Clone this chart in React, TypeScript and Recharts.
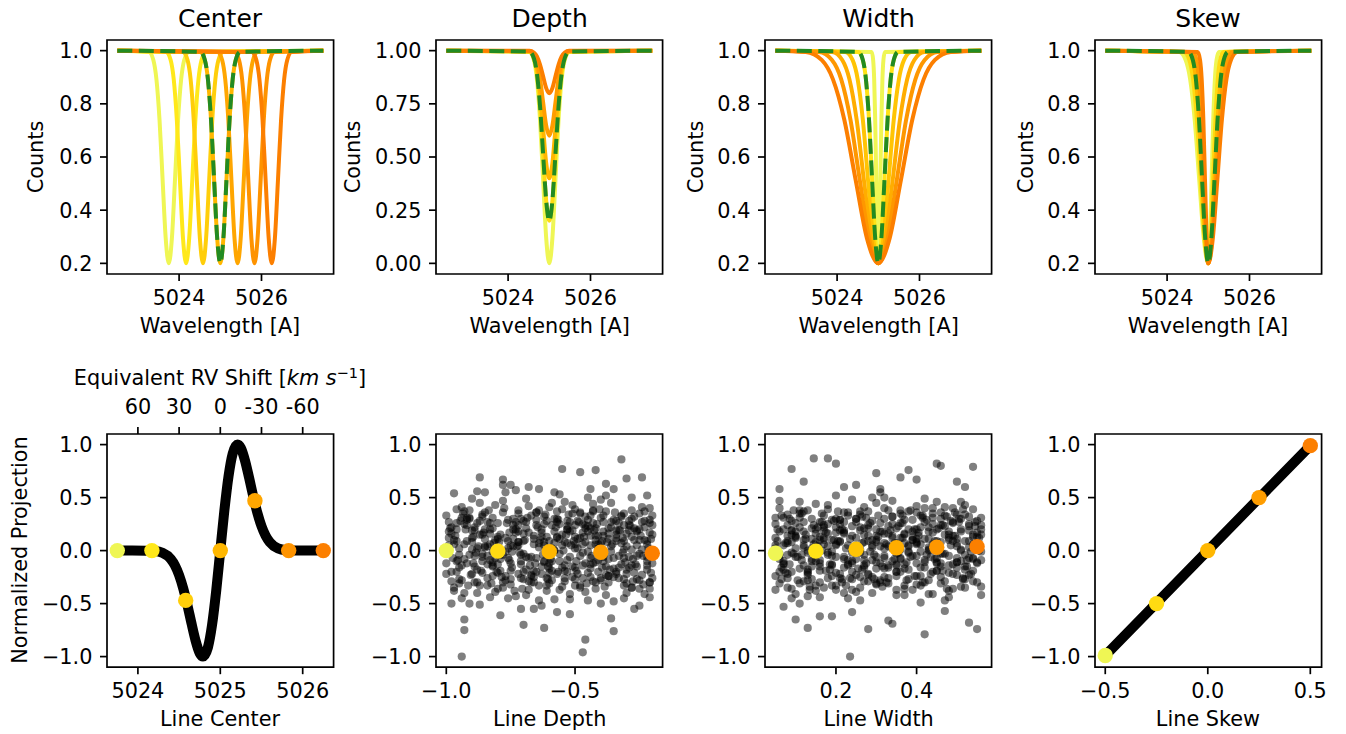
import React from "react";
import { ComposedChart, Line, Scatter, XAxis, YAxis, ReferenceArea } from "recharts";

const FONT = '"DejaVu Sans", Verdana, sans-serif';
const TICK = { fontSize: 20.8, fill: "#000", fontFamily: FONT };
const TL = { stroke: "#000", strokeWidth: 1.7 };
const GREEN = "#228b22";

// ---- tick values / labels ----
const waveTicks = [5024, 5026];
const waveTickLabels = ["5024", "5026"];
const countTicks = [0.2, 0.4, 0.6, 0.8, 1.0];
const countTickLabels = ["0.2", "0.4", "0.6", "0.8", "1.0"];
const depthCountTicks = [0, 0.25, 0.5, 0.75, 1.0];
const depthCountTickLabels = ["0.00", "0.25", "0.50", "0.75", "1.00"];
const projTicks = [-1, -0.5, 0, 0.5, 1];
const projTickLabels = ["\u22121.0", "\u22120.5", "0.0", "0.5", "1.0"];
const lineCenterTicks = [5024, 5025, 5026];
const lineCenterTickLabels = ["5024", "5025", "5026"];
const rvTicks = [5024, 5024.5, 5025, 5025.5, 5026];
const rvTickLabels = ["60", "30", "0", "-30", "-60"];
const lineDepthTicks = [-1, -0.5];
const lineDepthTickLabels = ["\u22121.0", "\u22120.5"];
const lineWidthTicks = [0.2, 0.4];
const lineWidthTickLabels = ["0.2", "0.4"];
const lineSkewTicks = [-0.5, 0, 0.5];
const lineSkewTickLabels = ["\u22120.5", "0.0", "0.5"];

// ---- colours ----
const sevenColors = ["#eff654", "#ffe81a", "#ffce0a", "#ffb700", "#ffa600", "#fe9300", "#fc7f00"];
const fiveColors = ["#eff654", "#ffdb12", "#ffb700", "#ff9d00", "#fc7f00"];
const sixColors = ["#eff654", "#ffe317", "#ffc404", "#ffad00", "#fe9700", "#fc7f00"];

// ---- line profiles (counts) ----
const counts08 = [1, 0.995, 0.965, 0.892, 0.74, 0.514, 0.294, 0.2, 0.294, 0.514, 0.74, 0.892, 0.965, 0.995, 1];
const counts10 = [1, 0.994, 0.956, 0.865, 0.675, 0.393, 0.118, 0, 0.118, 0.393, 0.675, 0.865, 0.956, 0.994, 1];
const counts06 = [1, 0.996, 0.974, 0.919, 0.805, 0.636, 0.471, 0.4, 0.471, 0.636, 0.805, 0.919, 0.974, 0.996, 1];
const counts04 = [1, 0.998, 0.982, 0.946, 0.87, 0.757, 0.647, 0.6, 0.647, 0.757, 0.87, 0.946, 0.982, 0.998, 1];
const counts02 = [1, 0.999, 0.991, 0.973, 0.935, 0.879, 0.824, 0.8, 0.824, 0.879, 0.935, 0.973, 0.991, 0.999, 1];

// wavelength grids of each curve
const waveRef = [5022.5, 5024.52, 5024.625, 5024.7, 5024.775, 5024.85, 5024.925, 5025, 5025.075, 5025.15, 5025.225, 5025.3, 5025.375, 5025.48, 5027.5];

const waveCenter1 = [5022.5, 5023.27, 5023.375, 5023.45, 5023.525, 5023.6, 5023.675, 5023.75, 5023.825, 5023.9, 5023.975, 5024.05, 5024.125, 5024.23, 5027.5];
const waveCenter2 = [5022.5, 5023.69, 5023.795, 5023.87, 5023.945, 5024.02, 5024.095, 5024.17, 5024.245, 5024.32, 5024.395, 5024.47, 5024.545, 5024.65, 5027.5];
const waveCenter3 = [5022.5, 5024.1, 5024.205, 5024.28, 5024.355, 5024.43, 5024.505, 5024.58, 5024.655, 5024.73, 5024.805, 5024.88, 5024.955, 5025.06, 5027.5];
const waveCenter5 = [5022.5, 5024.94, 5025.045, 5025.12, 5025.195, 5025.27, 5025.345, 5025.42, 5025.495, 5025.57, 5025.645, 5025.72, 5025.795, 5025.9, 5027.5];
const waveCenter6 = [5022.5, 5025.35, 5025.455, 5025.53, 5025.605, 5025.68, 5025.755, 5025.83, 5025.905, 5025.98, 5026.055, 5026.13, 5026.205, 5026.31, 5027.5];
const waveCenter7 = [5022.5, 5025.77, 5025.875, 5025.95, 5026.025, 5026.1, 5026.175, 5026.25, 5026.325, 5026.4, 5026.475, 5026.55, 5026.625, 5026.73, 5027.5];

const waveWidth05 = [5022.5, 5024.84, 5024.875, 5024.9, 5024.925, 5024.95, 5024.975, 5025, 5025.025, 5025.05, 5025.075, 5025.1, 5025.125, 5025.16, 5027.5];
const waveWidth25 = [5022.5, 5024.2, 5024.375, 5024.5, 5024.625, 5024.75, 5024.875, 5025, 5025.125, 5025.25, 5025.375, 5025.5, 5025.625, 5025.8, 5027.5];
const waveWidth35 = [5022.5, 5023.88, 5024.125, 5024.3, 5024.475, 5024.65, 5024.825, 5025, 5025.175, 5025.35, 5025.525, 5025.7, 5025.875, 5026.12, 5027.5];
const waveWidth45 = [5022.5, 5023.56, 5023.875, 5024.1, 5024.325, 5024.55, 5024.775, 5025, 5025.225, 5025.45, 5025.675, 5025.9, 5026.125, 5026.44, 5027.5];
const waveWidth55 = [5022.5, 5023.24, 5023.625, 5023.9, 5024.175, 5024.45, 5024.725, 5025, 5025.275, 5025.55, 5025.825, 5026.1, 5026.375, 5026.76, 5027.5];

const waveSkew1 = [5022.5, 5024.296, 5024.45, 5024.56, 5024.67, 5024.78, 5024.89, 5025, 5025.04, 5025.08, 5025.12, 5025.16, 5025.2, 5025.256, 5027.5];
const waveSkew2 = [5022.5, 5024.408, 5024.538, 5024.63, 5024.723, 5024.815, 5024.908, 5025, 5025.058, 5025.115, 5025.173, 5025.23, 5025.288, 5025.368, 5027.5];
const waveSkew4 = [5022.5, 5024.632, 5024.713, 5024.77, 5024.828, 5024.885, 5024.943, 5025, 5025.093, 5025.185, 5025.278, 5025.37, 5025.463, 5025.592, 5027.5];
const waveSkew5 = [5022.5, 5024.744, 5024.8, 5024.84, 5024.88, 5024.92, 5024.96, 5025, 5025.11, 5025.22, 5025.33, 5025.44, 5025.55, 5025.704, 5027.5];

// ---- bottom row: projections ----
const centerProjX = [5023.75, 5024.1, 5024.2, 5024.3, 5024.4, 5024.45, 5024.5, 5024.55, 5024.6, 5024.65, 5024.7, 5024.75, 5024.79, 5024.85, 5024.9, 5024.95, 5025, 5025.05, 5025.1, 5025.15, 5025.21, 5025.25, 5025.3, 5025.35, 5025.4, 5025.45, 5025.5, 5025.55, 5025.6, 5025.7, 5025.8, 5025.9, 5026.25];
const centerProjY = [0, -0.0005, -0.004, -0.021, -0.08, -0.14, -0.231, -0.356, -0.512, -0.685, -0.849, -0.967, -1.0, -0.913, -0.701, -0.382, 0, 0.382, 0.701, 0.913, 1.0, 0.967, 0.849, 0.685, 0.512, 0.356, 0.231, 0.14, 0.08, 0.021, 0.004, 0.0005, 0];
const centerDotX = [5023.75, 5024.17, 5024.58, 5025, 5025.42, 5025.83, 5026.25];
const centerDotY = [0, 0, -0.47, 0, 0.47, 0, 0];

const depthDotX = [-1, -0.8, -0.6, -0.4, -0.2];
const depthDotY = [0, -0.005, -0.01, -0.015, -0.025];
const widthDotX = [0.05, 0.15, 0.25, 0.35, 0.45, 0.55];
const widthDotY = [-0.025, -0.005, 0.012, 0.027, 0.031, 0.037];
const skewDotX = [-0.5, -0.25, 0, 0.25, 0.5];
const skewDotY = [-0.99, -0.5, 0, 0.5, 0.99];
const skewProjX = [-0.5, 0.5];
const skewProjY = [-0.99, 0.99];

const depthCloudX = [
  -0.99, -0.97, -0.94, -0.93, -0.89, -0.87, -0.85, -0.82, -0.79, -0.77, -0.75, -0.72, -0.69, -0.68, -0.65, -0.62, -0.6, -0.57, -0.55, -0.52, -0.5, -0.47, -0.44, -0.43, -0.4, -0.37, -0.35, -0.32, -0.3, -0.27, -0.24, -0.21,
  -0.98, -0.96, -0.92, -0.91, -0.88, -0.86, -0.83, -0.8, -0.78, -0.76, -0.73, -0.71, -0.7, -0.66, -0.64, -0.61, -0.59, -0.56, -0.54, -0.51, -0.49, -0.46, -0.45, -0.42, -0.39, -0.38, -0.34, -0.31, -0.29, -0.26, -0.23, -0.22,
  -1.0, -0.95, -0.94, -0.9, -0.87, -0.84, -0.83, -0.81, -0.77, -0.74, -0.72, -0.7, -0.67, -0.65, -0.63, -0.6, -0.58, -0.55, -0.53, -0.5, -0.48, -0.45, -0.43, -0.41, -0.38, -0.36, -0.33, -0.3, -0.28, -0.25, -0.22, -0.2,
  -0.97, -0.96, -0.93, -0.89, -0.86, -0.85, -0.82, -0.79, -0.78, -0.75, -0.71, -0.69, -0.68, -0.64, -0.62, -0.59, -0.57, -0.54, -0.52, -0.49, -0.47, -0.44, -0.42, -0.4, -0.37, -0.35, -0.32, -0.29, -0.27, -0.24, -0.21, -0.2,
  -0.99, -0.95, -0.92, -0.9, -0.88, -0.84, -0.81, -0.8, -0.76, -0.74, -0.73, -0.7, -0.66, -0.63, -0.61, -0.6, -0.56, -0.53, -0.51, -0.5, -0.46, -0.43, -0.41, -0.39, -0.36, -0.34, -0.31, -0.28, -0.26, -0.25, -0.22, -0.21,
  -0.98, -0.97, -0.91, -0.89, -0.87, -0.83, -0.82, -0.78, -0.77, -0.75, -0.72, -0.68, -0.67, -0.65, -0.62, -0.58, -0.57, -0.55, -0.52, -0.48, -0.47, -0.45, -0.42, -0.38, -0.37, -0.33, -0.32, -0.3, -0.27, -0.23, -0.22, -0.2,
  -0.96, -0.94, -0.93, -0.9, -0.86, -0.85, -0.81, -0.79, -0.76, -0.73, -0.71, -0.7, -0.66, -0.64, -0.61, -0.59, -0.56, -0.54, -0.5, -0.49, -0.46, -0.44, -0.4, -0.39, -0.35, -0.34, -0.31, -0.29, -0.25, -0.24, -0.21, -0.2,
  -1.0, -0.97, -0.92, -0.91, -0.88, -0.84, -0.83, -0.8, -0.78, -0.74, -0.72, -0.69, -0.67, -0.63, -0.62, -0.6, -0.58, -0.53, -0.51, -0.48, -0.45, -0.43, -0.41, -0.37, -0.36, -0.33, -0.3, -0.28, -0.26, -0.23, -0.22, -0.21,
  -0.94, -0.93, -0.87, -0.78, -0.62, -0.55, -0.48, -0.47, -0.46, -0.42, -0.35, -0.32, -0.24, -0.93, -0.88, -0.79, -0.75, -0.7, -0.68, -0.58, -0.57, -0.52, -0.44, -0.4, -0.38, -0.36, -0.3, -0.27, -0.25, -0.98, -0.85, -0.66,
  -0.99, -0.95, -0.9, -0.86, -0.82, -0.8, -0.76, -0.73, -0.69, -0.65, -0.63, -0.59, -0.56, -0.53, -0.5, -0.47, -0.44, -0.41, -0.39, -0.34, -0.31, -0.29, -0.26, -0.21, -0.92, -0.84, -0.71, -0.64, -0.54, -0.43, -0.33, -0.28,
  -0.985, -0.955, -0.935, -0.905, -0.875, -0.855, -0.825, -0.795, -0.765, -0.745, -0.715, -0.685, -0.655, -0.635, -0.605, -0.575, -0.545, -0.525, -0.495, -0.465, -0.435, -0.415, -0.385, -0.355, -0.325, -0.305, -0.275, -0.245, -0.215, -0.205, -0.565, -0.735,
  -0.975, -0.945, -0.915, -0.895, -0.865, -0.835, -0.815, -0.785, -0.755, -0.725, -0.705, -0.675, -0.645, -0.615, -0.595, -0.565, -0.535, -0.505, -0.485, -0.455, -0.425, -0.395, -0.375, -0.345, -0.315, -0.285, -0.265, -0.235, -0.205, -0.885, -0.625, -0.365,
  -0.995, -0.965, -0.925, -0.895, -0.86, -0.84, -0.805, -0.775, -0.755, -0.72, -0.695, -0.66, -0.64, -0.605, -0.58, -0.55, -0.52, -0.495, -0.46, -0.44, -0.405, -0.38, -0.35, -0.315, -0.29, -0.26, -0.235, -0.21, -0.745, -0.515, -0.395, -0.275,
  -0.98, -0.95, -0.92, -0.88, -0.86, -0.83, -0.8, -0.77, -0.74, -0.71, -0.69, -0.66, -0.63, -0.61, -0.58, -0.55, -0.52, -0.5, -0.47, -0.44, -0.41, -0.39, -0.36, -0.33, -0.31, -0.28, -0.25, -0.22, -0.6, -0.48, -0.35, -0.91,
  -0.99, -0.96, -0.94, -0.91, -0.87, -0.85, -0.82, -0.8, -0.77, -0.73, -0.7, -0.68, -0.65, -0.62, -0.59, -0.57, -0.54, -0.51, -0.49, -0.46, -0.43, -0.4, -0.38, -0.35, -0.32, -0.3, -0.27, -0.24, -0.21, -0.82, -0.53, -0.42,
  -0.97, -0.94, -0.9, -0.89, -0.85, -0.82, -0.79, -0.76, -0.74, -0.71, -0.68, -0.65, -0.62, -0.6, -0.57, -0.54, -0.51, -0.48, -0.45, -0.42, -0.4, -0.37, -0.34, -0.31, -0.28, -0.25, -0.23, -0.2, -0.72, -0.45, -0.3, -0.96,
  -1.0, -0.96, -0.93, -0.9, -0.87, -0.84, -0.81, -0.78, -0.75, -0.72, -0.69, -0.66, -0.64, -0.61, -0.58, -0.56, -0.53, -0.5, -0.47, -0.44, -0.42, -0.39, -0.36, -0.34, -0.31, -0.28, -0.25, -0.22, -0.2, -0.67, -0.46, -0.37,
  -0.98, -0.95, -0.93, -0.88, -0.86, -0.83, -0.8, -0.78, -0.75, -0.72, -0.7, -0.67, -0.63, -0.61, -0.59, -0.56, -0.53, -0.5, -0.48, -0.45, -0.42, -0.39, -0.37, -0.34, -0.31, -0.28, -0.26, -0.23, -0.21, -0.89, -0.57, -0.44,
];
const depthCloudY = [
  0.12, -0.35, 0.41, -0.08, 0.22, -0.51, 0.03, 0.31, -0.19, 0.55, -0.27, 0.08, -0.42, 0.17, 0.36, -0.11, -0.31, 0.27, 0.05, -0.46, 0.39, -0.02, 0.14, -0.29, 0.48, 0.21, -0.17, 0.33, -0.4, 0.1, -0.23, 0.29,
  -0.2, 0.26, -0.12, 0.38, -0.3, 0.15, -0.44, 0.0, 0.47, -0.07, 0.2, -0.55, 0.09, -0.25, 0.58, 0.13, 0.24, -0.37, -0.14, 0.43, -0.22, 0.32, -0.47, 0.06, -0.1, 0.52, 0.28, -0.33, 0.19, -0.05, 0.37, -0.18,
  0.33, 0.02, -0.28, 0.19, 0.45, -0.13, 0.26, -0.39, -0.01, 0.11, 0.35, -0.2, -0.06, 0.29, -0.52, 0.41, 0.07, -0.16, 0.23, 0.13, -0.33, 0.18, 0.37, -0.09, -0.42, 0.04, -0.26, 0.16, 0.5, -0.36, 0.09, -0.12,
  -0.38, 0.2, 0.06, -0.15, -0.06, 0.36, -0.24, 0.15, 0.62, -0.32, -0.1, 0.27, 0.42, -0.47, 0.05, -0.28, 0.3, 0.46, -0.41, 0.02, 0.25, -0.13, -0.36, 0.31, 0.16, -0.48, 0.07, 0.24, -0.21, 0.41, -0.3, 0.0,
  0.05, -0.16, 0.29, 0.49, -0.4, -0.26, 0.1, -0.21, -0.45, 0.24, 0.57, -0.03, 0.14, 0.2, -0.38, -0.17, 0.53, -0.09, 0.35, -0.33, 0.08, 0.44, -0.2, -0.04, 0.27, 0.12, -0.45, 0.38, -0.15, 0.2, 0.52, -0.44,
  0.22, 0.54, -0.04, -0.3, 0.28, 0.06, -0.15, 0.36, -0.28, -0.12, 0.18, -0.37, 0.33, -0.07, 0.25, 0.0, -0.22, 0.39, 0.18, -0.05, -0.26, 0.5, 0.21, 0.37, -0.3, 0.26, -0.13, 0.04, 0.32, -0.41, -0.06, 0.15,
  -0.1, -0.45, 0.37, 0.12, -0.21, 0.2, 0.43, -0.08, 0.09, -0.43, 0.3, 0.16, -0.19, 0.38, -0.26, 0.45, 0.11, -0.29, -0.16, 0.28, -0.39, 0.05, -0.28, 0.14, 0.58, -0.22, 0.35, -0.06, 0.1, 0.27, -0.36, 0.33,
  -0.22, 0.1, 0.24, -0.5, 0.02, -0.33, 0.16, 0.26, -0.35, 0.04, -0.22, 0.49, -0.3, -0.15, 0.32, 0.09, -0.46, 0.28, -0.25, 0.12, 0.29, -0.12, 0.06, -0.24, 0.45, -0.05, -0.22, 0.3, 0.05, 0.22, -0.1, 0.26,
  -1.0, -0.75, 0.69, 0.67, -0.73, 0.77, 0.74, -0.96, -0.84, 0.76, -0.76, 0.86, 0.69, -0.65, 0.56, -0.61, 0.62, -0.7, 0.6, 0.55, -0.58, -0.6, 0.58, -0.5, 0.63, -0.64, 0.68, -0.55, -0.52, -0.5, 0.55, -0.55,
  0.18, -0.27, 0.08, -0.03, -0.11, 0.11, 0.02, 0.27, -0.06, -0.2, 0.13, -0.1, -0.03, 0.07, 0.02, 0.17, -0.07, 0.14, 0.27, 0.09, 0.01, -0.16, -0.27, -0.02, 0.31, 0.04, -0.13, 0.07, -0.19, 0.38, 0.19, -0.14,
  0.21, -0.09, 0.35, -0.23, 0.04, 0.17, -0.31, 0.08, 0.26, -0.16, -0.02, 0.31, -0.12, 0.1, -0.27, 0.22, 0.0, 0.34, -0.19, 0.13, -0.05, 0.25, -0.34, 0.06, 0.19, -0.11, -0.29, 0.14, 0.02, -0.21, 0.29, -0.38,
  -0.07, 0.28, -0.33, 0.13, -0.19, 0.38, 0.07, -0.25, 0.17, 0.04, -0.36, -0.14, 0.22, 0.34, -0.08, -0.2, 0.15, 0.09, 0.27, -0.31, 0.19, -0.16, 0.08, 0.36, -0.02, 0.23, -0.13, -0.32, 0.11, -0.02, -0.04, -0.18,
  0.0, 0.14, 0.2, -0.12, 0.32, -0.05, -0.2, 0.4, -0.09, 0.24, 0.1, -0.3, 0.03, -0.15, 0.18, -0.34, 0.27, -0.1, 0.21, -0.17, 0.39, -0.23, -0.07, 0.12, 0.28, 0.19, -0.05, 0.4, -0.01, 0.05, 0.09, -0.08,
  -0.29, -0.04, 0.09, 0.26, -0.1, 0.2, -0.36, 0.12, 0.3, -0.26, 0.21, 0.06, -0.22, -0.04, 0.3, 0.15, -0.06, 0.24, -0.14, -0.25, 0.02, 0.33, 0.22, -0.16, -0.07, 0.13, -0.28, 0.06, -0.12, 0.36, 0.29, 0.31,
  0.27, -0.2, -0.14, 0.3, -0.33, 0.04, 0.21, -0.13, -0.24, 0.17, -0.27, -0.07, 0.24, 0.08, -0.19, 0.37, -0.26, 0.19, 0.11, -0.12, 0.26, 0.07, -0.15, -0.25, 0.32, -0.18, 0.21, 0.01, 0.17, -0.01, 0.2, -0.3,
  0.06, 0.31, -0.22, -0.05, 0.11, -0.14, -0.04, 0.29, 0.2, -0.04, -0.29, 0.36, -0.1, -0.21, 0.13, 0.08, -0.15, 0.35, -0.01, 0.1, -0.26, -0.08, 0.15, 0.24, -0.35, -0.03, 0.28, -0.26, 0.05, -0.21, -0.31, 0.39,
  -0.12, 0.09, -0.4, 0.01, 0.15, 0.27, -0.07, -0.3, 0.05, 0.38, -0.18, 0.11, -0.33, 0.28, 0.0, -0.1, 0.2, -0.27, 0.06, 0.33, -0.11, 0.18, -0.01, -0.2, 0.09, -0.35, 0.35, -0.14, 0.24, -0.23, 0.24, 0.11,
  0.16, -0.31, 0.25, -0.18, 0.34, -0.09, 0.13, -0.04, -0.19, 0.08, 0.28, -0.24, 0.17, -0.33, 0.02, 0.25, -0.2, 0.06, -0.35, 0.23, 0.14, -0.06, -0.24, 0.19, -0.27, 0.01, 0.18, 0.1, -0.3, 0.19, 0.12, 0.21,
];

const widthCloudX = [
  0.05, 0.07, 0.08, 0.1, 0.12, 0.13, 0.15, 0.16, 0.18, 0.2, 0.21, 0.23, 0.24, 0.26, 0.28, 0.29, 0.31, 0.32, 0.34, 0.36, 0.37, 0.39, 0.4, 0.42, 0.44, 0.45, 0.47, 0.48, 0.5, 0.52, 0.53, 0.55,
  0.06, 0.07, 0.09, 0.11, 0.12, 0.14, 0.16, 0.17, 0.19, 0.2, 0.22, 0.24, 0.25, 0.27, 0.28, 0.3, 0.32, 0.33, 0.35, 0.36, 0.38, 0.4, 0.41, 0.43, 0.44, 0.46, 0.48, 0.49, 0.51, 0.52, 0.54, 0.56,
  0.05, 0.06, 0.08, 0.1, 0.11, 0.13, 0.14, 0.16, 0.18, 0.19, 0.21, 0.22, 0.24, 0.26, 0.27, 0.29, 0.3, 0.32, 0.34, 0.35, 0.37, 0.38, 0.4, 0.42, 0.43, 0.45, 0.46, 0.48, 0.5, 0.51, 0.53, 0.55,
  0.06, 0.08, 0.09, 0.11, 0.12, 0.14, 0.15, 0.17, 0.19, 0.2, 0.22, 0.23, 0.25, 0.27, 0.28, 0.3, 0.31, 0.33, 0.35, 0.36, 0.38, 0.39, 0.41, 0.43, 0.44, 0.46, 0.47, 0.49, 0.5, 0.52, 0.54, 0.56,
  0.05, 0.07, 0.09, 0.1, 0.12, 0.13, 0.15, 0.17, 0.18, 0.2, 0.21, 0.23, 0.25, 0.26, 0.28, 0.29, 0.31, 0.33, 0.34, 0.36, 0.37, 0.39, 0.41, 0.42, 0.44, 0.45, 0.47, 0.49, 0.5, 0.52, 0.53, 0.55,
  0.06, 0.07, 0.09, 0.11, 0.13, 0.14, 0.16, 0.17, 0.19, 0.21, 0.22, 0.24, 0.25, 0.27, 0.29, 0.3, 0.32, 0.33, 0.35, 0.37, 0.38, 0.4, 0.41, 0.43, 0.45, 0.46, 0.48, 0.49, 0.51, 0.53, 0.54, 0.56,
  0.05, 0.06, 0.08, 0.1, 0.11, 0.13, 0.15, 0.16, 0.18, 0.19, 0.21, 0.23, 0.24, 0.26, 0.27, 0.29, 0.31, 0.32, 0.34, 0.35, 0.37, 0.39, 0.4, 0.42, 0.43, 0.45, 0.47, 0.48, 0.5, 0.51, 0.53, 0.55,
  0.06, 0.08, 0.09, 0.11, 0.12, 0.14, 0.16, 0.17, 0.19, 0.2, 0.22, 0.24, 0.25, 0.27, 0.28, 0.3, 0.32, 0.33, 0.35, 0.36, 0.38, 0.4, 0.41, 0.43, 0.44, 0.46, 0.48, 0.49, 0.51, 0.52, 0.54, 0.55,
  0.235, 0.42, 0.145, 0.18, 0.2, 0.09, 0.45, 0.46, 0.54, 0.13, 0.28, 0.55, 0.06, 0.1, 0.16, 0.22, 0.3, 0.34, 0.38, 0.5, 0.53, 0.07, 0.12, 0.25, 0.33, 0.36, 0.4, 0.47, 0.52, 0.24, 0.31, 0.19,
  0.05, 0.08, 0.1, 0.13, 0.15, 0.18, 0.2, 0.23, 0.26, 0.28, 0.31, 0.33, 0.36, 0.39, 0.41, 0.44, 0.46, 0.49, 0.51, 0.54, 0.56, 0.07, 0.12, 0.17, 0.22, 0.27, 0.32, 0.37, 0.42, 0.47, 0.52, 0.09,
  0.055, 0.075, 0.085, 0.105, 0.125, 0.135, 0.155, 0.165, 0.185, 0.205, 0.215, 0.235, 0.245, 0.265, 0.285, 0.295, 0.315, 0.325, 0.345, 0.365, 0.375, 0.395, 0.405, 0.425, 0.445, 0.455, 0.475, 0.485, 0.505, 0.525, 0.535, 0.555,
  0.065, 0.08, 0.095, 0.115, 0.13, 0.145, 0.16, 0.175, 0.195, 0.21, 0.225, 0.24, 0.26, 0.275, 0.29, 0.305, 0.32, 0.34, 0.355, 0.37, 0.385, 0.4, 0.415, 0.435, 0.45, 0.465, 0.48, 0.495, 0.515, 0.53, 0.545, 0.56,
  0.05, 0.07, 0.09, 0.1, 0.12, 0.14, 0.15, 0.17, 0.18, 0.2, 0.22, 0.23, 0.25, 0.26, 0.28, 0.3, 0.31, 0.33, 0.34, 0.36, 0.38, 0.39, 0.41, 0.42, 0.44, 0.46, 0.47, 0.49, 0.5, 0.52, 0.54, 0.55,
  0.06, 0.08, 0.09, 0.11, 0.13, 0.14, 0.16, 0.18, 0.19, 0.21, 0.22, 0.24, 0.26, 0.27, 0.29, 0.3, 0.32, 0.34, 0.35, 0.37, 0.38, 0.4, 0.42, 0.43, 0.45, 0.46, 0.48, 0.5, 0.51, 0.53, 0.54, 0.56,
  0.055, 0.07, 0.09, 0.105, 0.12, 0.14, 0.155, 0.17, 0.19, 0.205, 0.22, 0.24, 0.255, 0.27, 0.29, 0.305, 0.32, 0.34, 0.355, 0.37, 0.39, 0.405, 0.42, 0.44, 0.455, 0.47, 0.49, 0.505, 0.52, 0.54, 0.555, 0.3,
  0.065, 0.08, 0.1, 0.115, 0.13, 0.15, 0.165, 0.18, 0.2, 0.215, 0.23, 0.25, 0.265, 0.28, 0.3, 0.315, 0.33, 0.35, 0.365, 0.38, 0.4, 0.415, 0.43, 0.45, 0.465, 0.48, 0.5, 0.515, 0.53, 0.55, 0.56, 0.2,
  0.05, 0.065, 0.085, 0.1, 0.115, 0.135, 0.15, 0.165, 0.185, 0.2, 0.215, 0.235, 0.25, 0.265, 0.285, 0.3, 0.315, 0.335, 0.35, 0.365, 0.385, 0.4, 0.415, 0.435, 0.45, 0.465, 0.485, 0.5, 0.515, 0.535, 0.55, 0.4,
  0.06, 0.075, 0.095, 0.11, 0.125, 0.145, 0.16, 0.175, 0.195, 0.21, 0.225, 0.245, 0.26, 0.275, 0.295, 0.31, 0.325, 0.345, 0.36, 0.375, 0.395, 0.41, 0.425, 0.445, 0.46, 0.475, 0.495, 0.51, 0.525, 0.545, 0.56, 0.35,
];
const widthCloudY = [
  -0.24, 0.31, 0.07, -0.41, 0.18, -0.02, 0.44, -0.19, 0.25, -0.33, 0.09, 0.36, -0.12, -0.47, 0.21, 0.03, -0.28, 0.5, 0.14, -0.08, 0.29, -0.37, 0.11, 0.4, -0.2, 0.01, 0.23, -0.44, 0.34, -0.15, 0.19, 0.06,
  0.4, -0.13, -0.36, 0.22, 0.05, -0.27, 0.13, 0.33, -0.05, 0.52, -0.4, -0.1, 0.27, 0.08, -0.22, 0.45, 0.16, -0.31, -0.03, 0.38, -0.18, 0.2, -0.49, 0.0, 0.31, -0.25, 0.12, 0.26, -0.34, 0.43, -0.07, 0.24,
  0.12, 0.47, -0.22, -0.06, 0.35, -0.43, 0.02, -0.15, 0.39, 0.1, -0.26, 0.19, 0.48, -0.35, -0.09, 0.28, -0.17, 0.07, 0.32, -0.42, 0.15, -0.01, 0.36, -0.3, 0.22, 0.46, -0.12, -0.38, 0.04, 0.3, -0.23, -0.11,
  -0.31, 0.09, 0.28, -0.5, -0.14, 0.21, -0.38, 0.06, -0.24, 0.3, 0.17, -0.45, 0.04, 0.41, -0.29, -0.11, 0.55, 0.23, -0.2, 0.12, 0.37, -0.05, -0.33, 0.18, -0.41, 0.08, 0.33, 0.14, -0.16, -0.27, 0.39, 0.2,
  0.25, -0.18, 0.15, 0.02, -0.29, 0.38, -0.1, 0.24, 0.43, -0.37, 0.08, -0.14, 0.3, -0.25, 0.14, -0.4, 0.04, -0.16, 0.47, 0.26, -0.33, 0.1, 0.22, -0.09, 0.35, -0.19, -0.47, 0.27, 0.11, -0.04, 0.25, -0.3,
  -0.03, 0.2, -0.45, 0.31, -0.2, 0.11, 0.27, -0.35, -0.01, 0.19, 0.36, -0.2, -0.39, 0.15, 0.5, -0.06, 0.3, -0.26, 0.07, -0.13, 0.2, 0.42, -0.24, 0.03, -0.11, 0.3, 0.18, -0.36, 0.46, 0.09, -0.19, -0.42,
  -0.37, -0.08, 0.34, 0.14, 0.46, -0.23, 0.0, -0.44, 0.16, -0.13, 0.29, 0.05, -0.27, 0.34, -0.16, 0.1, -0.3, 0.4, -0.1, 0.21, -0.42, 0.29, 0.07, 0.49, -0.28, -0.07, 0.41, -0.14, -0.23, 0.2, 0.32, 0.13,
  0.18, -0.26, -0.02, 0.38, 0.1, -0.08, -0.3, 0.19, 0.29, -0.21, -0.06, 0.23, 0.12, -0.14, 0.37, -0.32, 0.02, 0.16, -0.37, -0.2, 0.05, -0.12, 0.33, -0.41, 0.17, 0.24, -0.05, 0.4, -0.1, -0.35, 0.06, 0.28,
  -1.0, -0.79, 0.87, 0.87, 0.82, 0.77, 0.82, 0.8, 0.79, -0.73, -0.74, -0.74, 0.58, -0.65, -0.62, 0.6, 0.73, -0.69, 0.76, 0.65, -0.68, -0.53, 0.65, 0.62, -0.66, 0.69, 0.67, -0.57, 0.6, -0.58, 0.58, -0.62,
  0.05, -0.04, 0.12, -0.18, 0.08, -0.02, 0.17, -0.09, 0.01, 0.24, -0.12, 0.04, -0.07, 0.13, -0.01, 0.06, -0.15, 0.09, 0.01, -0.08, 0.15, -0.12, 0.03, 0.1, -0.16, -0.04, -0.17, 0.07, 0.11, -0.03, 0.09, 0.19,
  0.09, -0.21, 0.3, -0.06, 0.15, -0.34, 0.22, 0.0, -0.13, 0.37, -0.27, 0.11, 0.03, -0.18, 0.26, -0.04, 0.18, -0.3, 0.07, 0.33, -0.11, -0.24, 0.14, 0.29, -0.08, 0.21, -0.36, 0.05, 0.27, -0.15, -0.01, 0.12,
  -0.16, 0.24, -0.03, 0.35, -0.28, 0.06, -0.12, 0.17, 0.28, -0.22, 0.02, -0.37, 0.19, 0.31, -0.09, 0.13, -0.25, 0.25, -0.02, -0.17, 0.38, 0.08, -0.3, -0.06, 0.2, -0.19, 0.1, 0.36, -0.26, 0.03, 0.23, -0.09,
  0.31, 0.05, -0.2, 0.13, 0.27, -0.1, -0.33, 0.22, 0.04, -0.06, 0.16, 0.33, -0.23, -0.02, 0.09, -0.31, 0.26, -0.14, 0.12, 0.01, -0.27, 0.18, 0.06, -0.16, 0.4, -0.03, 0.15, -0.22, -0.11, 0.34, -0.29, 0.04,
  -0.05, -0.35, 0.19, -0.17, 0.0, 0.3, 0.1, -0.26, -0.14, 0.25, -0.08, 0.14, 0.37, -0.29, 0.05, 0.2, -0.05, 0.32, -0.24, 0.16, -0.02, -0.32, 0.27, 0.11, -0.12, 0.36, -0.21, 0.07, 0.18, -0.07, 0.15, 0.31,
  0.2, -0.1, 0.08, -0.28, 0.37, -0.15, 0.04, 0.12, -0.33, 0.09, 0.27, -0.02, -0.17, 0.21, -0.25, 0.33, -0.07, 0.02, 0.23, -0.36, 0.1, 0.17, -0.11, 0.25, 0.03, -0.29, -0.13, 0.3, -0.18, 0.13, 0.0, 0.08,
  -0.27, 0.14, 0.26, -0.09, -0.21, 0.2, 0.35, -0.04, 0.22, -0.3, -0.13, 0.3, 0.07, -0.23, 0.14, -0.15, 0.38, -0.2, 0.12, 0.04, -0.24, 0.33, 0.01, -0.19, 0.24, 0.15, -0.07, -0.27, 0.23, -0.12, -0.01, 0.05,
  0.02, 0.33, -0.13, 0.18, -0.04, -0.37, 0.16, 0.27, -0.18, 0.06, 0.2, -0.26, -0.08, 0.32, -0.01, 0.1, -0.34, 0.19, -0.14, 0.26, -0.06, 0.06, 0.31, -0.22, 0.09, -0.03, 0.28, -0.11, 0.39, -0.22, 0.17, -0.05,
  -0.2, 0.07, 0.38, -0.31, 0.11, 0.24, -0.09, -0.19, 0.1, 0.29, -0.33, 0.03, 0.22, -0.12, -0.27, 0.18, 0.06, -0.08, 0.35, -0.28, 0.2, -0.16, -0.04, 0.09, -0.31, 0.32, 0.14, 0.0, -0.09, 0.27, -0.34, -0.13,
];

// ---- layout ----
const PW = 226.6;
const colLeft = [106.7, 436.4, 765.3, 1094.7];
const TOP_ROW = { top: 40, h: 234 };
const BOT_ROW = { top: 433.5, h: 233.2 };
const WAVE_DOMAIN: [number, number] = [5022.25, 5027.75];
const PROJ_DOMAIN: [number, number] = [-1.1, 1.1];

const zip = (xs: number[], ys: number[]) =>
  xs.slice(0, Math.min(xs.length, ys.length)).map((x, i) => ({ x, y: ys[i] }));
const fmt = (ticks: number[], labels: string[]) => (v: number) => {
  const i = ticks.indexOf(v);
  return i >= 0 ? labels[i] : "";
};

const curve = (key: string, xs: number[], ys: number[], color: string) => (
  <Line
    key={key}
    data={zip(xs, ys)}
    dataKey="y"
    type="monotone"
    stroke={color}
    strokeWidth={4}
    dot={false}
    activeDot={false}
    isAnimationActive={false}
  />
);

const refCurve = (
  <Line
    key="ref"
    data={zip(waveRef, counts08)}
    dataKey="y"
    type="monotone"
    stroke={GREEN}
    strokeWidth={4}
    strokeDasharray="15 6.5"
    dot={false}
    activeDot={false}
    isAnimationActive={false}
  />
);

const cloud = (key: string, xs: number[], ys: number[]) => (
  <Scatter
    key={key}
    data={zip(xs, ys)}
    dataKey="y"
    isAnimationActive={false}
    shape={(p: any) => <circle cx={p.cx} cy={p.cy} r={4.1} fill="#000" fillOpacity={0.5} />}
  />
);

const dots = (key: string, xs: number[], ys: number[], colors: string[]) =>
  xs.map((x, i) => (
    <Scatter
      key={`${key}${i}`}
      data={[{ x, y: ys[i] }]}
      dataKey="y"
      isAnimationActive={false}
      shape={(p: any) => <circle cx={p.cx} cy={p.cy} r={7.7} fill={colors[i]} />}
    />
  ));

type PanelProps = {
  col: number;
  row: { top: number; h: number };
  xDomain: [number, number];
  yDomain: [number, number];
  xTicks: number[];
  xTickLabels: string[];
  yTicks: number[];
  yTickLabels: string[];
  rv?: boolean;
  children: React.ReactNode;
};

function Panel({ col, row, xDomain, yDomain, xTicks, xTickLabels, yTicks, yTickLabels, rv, children }: PanelProps) {
  const padL = 110;
  const padR = 14;
  const padT = rv ? 60 : 12;
  const padB = 52;
  return (
    <div style={{ position: "absolute", left: colLeft[col] - padL, top: row.top - padT }}>
      <ComposedChart
        width={padL + PW + padR}
        height={padT + row.h + padB}
        margin={{ top: rv ? 0 : padT, right: padR, bottom: 0, left: 0 }}
      >
        <XAxis
          type="number"
          dataKey="x"
          domain={xDomain}
          allowDataOverflow
          ticks={xTicks}
          interval={0}
          tickFormatter={fmt(xTicks, xTickLabels)}
          height={padB}
          tick={TICK}
          tickSize={7}
          tickMargin={9.5}
          tickLine={TL}
          axisLine={false}
        />
        {rv && (
          <XAxis
            xAxisId="rv"
            orientation="top"
            type="number"
            dataKey="x"
            domain={xDomain}
            allowDataOverflow
            ticks={rvTicks}
            interval={0}
            tickFormatter={fmt(rvTicks, rvTickLabels)}
            height={padT}
            tick={TICK}
            tickSize={7}
            tickMargin={13}
            tickLine={TL}
            axisLine={false}
          />
        )}
        <YAxis
          type="number"
          domain={yDomain}
          allowDataOverflow
          ticks={yTicks}
          interval={0}
          tickFormatter={fmt(yTicks, yTickLabels)}
          width={padL}
          tick={TICK}
          tickSize={7}
          tickMargin={7.6}
          tickLine={TL}
          axisLine={false}
        />
        {children}
        <ReferenceArea
          x1={xDomain[0]}
          x2={xDomain[1]}
          y1={yDomain[0]}
          y2={yDomain[1]}
          fill="none"
          fillOpacity={0}
          stroke="#000"
          strokeWidth={1.7}
          ifOverflow="visible"
        />
      </ComposedChart>
    </div>
  );
}

const textBase: React.CSSProperties = {
  position: "absolute",
  fontFamily: FONT,
  fontSize: 20.8,
  lineHeight: 1,
  whiteSpace: "nowrap",
  color: "#000",
};

const Title = ({ x, children }: { x: number; children: React.ReactNode }) => (
  <div style={{ ...textBase, fontSize: 25, left: x, top: 5.5, transform: "translateX(-50%)" }}>{children}</div>
);
const XLabel = ({ x, top, children }: { x: number; top: number; children: React.ReactNode }) => (
  <div style={{ ...textBase, left: x, top, transform: "translateX(-50%)" }}>{children}</div>
);
const YLabel = ({ x, y, children }: { x: number; y: number; children: React.ReactNode }) => (
  <div style={{ ...textBase, left: x, top: y, transform: "translate(-50%, -50%) rotate(-90deg)" }}>{children}</div>
);

const mid = (c: number) => colLeft[c] + PW / 2;

export default function App() {
  return (
    <div style={{ position: "absolute", left: 0, top: 0, width: 1346, height: 734, background: "#fff", fontFamily: FONT }}>
      {/* top row */}
      <Panel col={0} row={TOP_ROW} xDomain={WAVE_DOMAIN} yDomain={[0.16, 1.04]} xTicks={waveTicks} xTickLabels={waveTickLabels} yTicks={countTicks} yTickLabels={countTickLabels}>
        {[
          curve("c1", waveCenter1, counts08, sevenColors[0]),
          curve("c2", waveCenter2, counts08, sevenColors[1]),
          curve("c3", waveCenter3, counts08, sevenColors[2]),
          curve("c4", waveRef, counts08, sevenColors[3]),
          curve("c5", waveCenter5, counts08, sevenColors[4]),
          curve("c6", waveCenter6, counts08, sevenColors[5]),
          curve("c7", waveCenter7, counts08, sevenColors[6]),
          refCurve,
        ]}
      </Panel>
      <Panel col={1} row={TOP_ROW} xDomain={WAVE_DOMAIN} yDomain={[-0.05, 1.05]} xTicks={waveTicks} xTickLabels={waveTickLabels} yTicks={depthCountTicks} yTickLabels={depthCountTickLabels}>
        {[
          curve("d1", waveRef, counts10, fiveColors[0]),
          curve("d2", waveRef, counts08, fiveColors[1]),
          curve("d3", waveRef, counts06, fiveColors[2]),
          curve("d4", waveRef, counts04, fiveColors[3]),
          curve("d5", waveRef, counts02, fiveColors[4]),
          refCurve,
        ]}
      </Panel>
      <Panel col={2} row={TOP_ROW} xDomain={WAVE_DOMAIN} yDomain={[0.16, 1.04]} xTicks={waveTicks} xTickLabels={waveTickLabels} yTicks={countTicks} yTickLabels={countTickLabels}>
        {[
          curve("w1", waveWidth05, counts08, sixColors[0]),
          curve("w2", waveRef, counts08, sixColors[1]),
          curve("w3", waveWidth25, counts08, sixColors[2]),
          curve("w4", waveWidth35, counts08, sixColors[3]),
          curve("w5", waveWidth45, counts08, sixColors[4]),
          curve("w6", waveWidth55, counts08, sixColors[5]),
          refCurve,
        ]}
      </Panel>
      <Panel col={3} row={TOP_ROW} xDomain={WAVE_DOMAIN} yDomain={[0.16, 1.04]} xTicks={waveTicks} xTickLabels={waveTickLabels} yTicks={countTicks} yTickLabels={countTickLabels}>
        {[
          curve("s1", waveSkew1, counts08, fiveColors[0]),
          curve("s2", waveSkew2, counts08, fiveColors[1]),
          curve("s3", waveRef, counts08, fiveColors[2]),
          curve("s4", waveSkew4, counts08, fiveColors[3]),
          curve("s5", waveSkew5, counts08, fiveColors[4]),
          refCurve,
        ]}
      </Panel>

      {/* bottom row */}
      <Panel col={0} row={BOT_ROW} rv xDomain={[5023.625, 5026.375]} yDomain={PROJ_DOMAIN} xTicks={lineCenterTicks} xTickLabels={lineCenterTickLabels} yTicks={projTicks} yTickLabels={projTickLabels}>
        {[
          <Line
            key="cp"
            data={zip(centerProjX, centerProjY)}
            dataKey="y"
            type="monotone"
            stroke="#000"
            strokeWidth={10}
            strokeLinecap="round"
            strokeLinejoin="round"
            dot={false}
            activeDot={false}
            isAnimationActive={false}
          />,
          ...dots("cd", centerDotX, centerDotY, sevenColors),
        ]}
      </Panel>
      <Panel col={1} row={BOT_ROW} xDomain={[-1.04, -0.16]} yDomain={PROJ_DOMAIN} xTicks={lineDepthTicks} xTickLabels={lineDepthTickLabels} yTicks={projTicks} yTickLabels={projTickLabels}>
        {[cloud("dc", depthCloudX, depthCloudY), ...dots("dd", depthDotX, depthDotY, fiveColors)]}
      </Panel>
      <Panel col={2} row={BOT_ROW} xDomain={[0.024, 0.586]} yDomain={PROJ_DOMAIN} xTicks={lineWidthTicks} xTickLabels={lineWidthTickLabels} yTicks={projTicks} yTickLabels={projTickLabels}>
        {[cloud("wc", widthCloudX, widthCloudY), ...dots("wd", widthDotX, widthDotY, sixColors)]}
      </Panel>
      <Panel col={3} row={BOT_ROW} xDomain={[-0.55, 0.555]} yDomain={PROJ_DOMAIN} xTicks={lineSkewTicks} xTickLabels={lineSkewTickLabels} yTicks={projTicks} yTickLabels={projTickLabels}>
        {[
          <Line
            key="sp"
            data={zip(skewProjX, skewProjY)}
            dataKey="y"
            type="linear"
            stroke="#000"
            strokeWidth={10}
            strokeLinecap="round"
            dot={false}
            activeDot={false}
            isAnimationActive={false}
          />,
          ...dots("sd", skewDotX, skewDotY, fiveColors),
        ]}
      </Panel>

      {/* titles and axis labels */}
      <Title x={mid(0)}>Center</Title>
      <Title x={mid(1)}>Depth</Title>
      <Title x={mid(2)}>Width</Title>
      <Title x={mid(3)}>Skew</Title>

      {[0, 1, 2, 3].map((c) => (
        <XLabel key={c} x={mid(c)} top={316.4}>Wavelength [A]</XLabel>
      ))}
      <XLabel x={mid(0)} top={708.9}>Line Center</XLabel>
      <XLabel x={mid(1)} top={708.9}>Line Depth</XLabel>
      <XLabel x={mid(2)} top={708.9}>Line Width</XLabel>
      <XLabel x={mid(3)} top={708.9}>Line Skew</XLabel>

      <YLabel x={36.1} y={157}>Counts</YLabel>
      <YLabel x={352.8} y={157}>Counts</YLabel>
      <YLabel x={695.5} y={157}>Counts</YLabel>
      <YLabel x={1025.5} y={157}>Counts</YLabel>
      <YLabel x={19.5} y={550}>Normalized Projection</YLabel>

      <XLabel x={mid(0)} top={368.1}>
        Equivalent RV Shift [<i>km s</i>
        <span style={{ fontSize: "0.7em", position: "relative", top: "-0.5em" }}>{"\u22121"}</span>]
      </XLabel>
    </div>
  );
}
